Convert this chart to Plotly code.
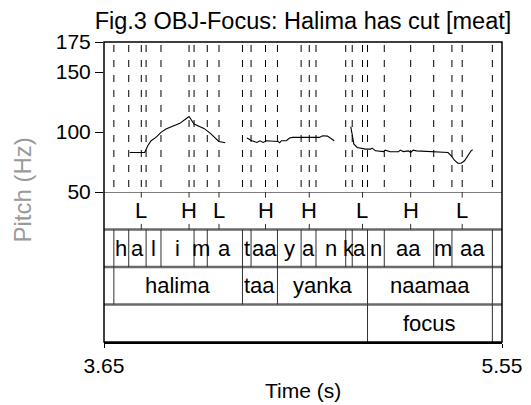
import plotly.graph_objects as go

FONT = "Liberation Sans, Arial, sans-serif"

# ---------------- data ----------------
x_start, x_end = 3.65, 5.55
y_ticks = [50, 100, 150, 175]

tone_times = [3.828, 4.056, 4.199, 4.421, 4.630, 4.884, 5.114, 5.360]
tone_labels = ["L", "H", "L", "H", "H", "L", "H", "L"]

phone_bounds = [3.697, 3.768, 3.851, 3.922, 4.080, 4.143, 4.311, 4.352, 4.478,
                4.591, 4.662, 4.804, 4.835, 4.908, 4.988, 5.224, 5.311, 5.504]
phone_labels = ["h", "a", "l", "i", "m", "a", "t", "aa", "y", "a", "n", "k",
                "a", "n", "aa", "m", "aa"]

word_bounds = [3.697, 4.311, 4.478, 4.908, 5.504]
word_labels = ["halima", "taa", "yanka", "naamaa"]

focus_bounds = [4.908, 5.504]
focus_labels = ["focus"]

pitch_t1 = [3.773, 3.844, 3.859, 3.875, 3.898, 3.922, 3.946, 3.977, 4.012, 4.040,
            4.056, 4.080, 4.103, 4.127, 4.158, 4.182, 4.198, 4.229]
pitch_hz1 = [82.9, 82.9, 88.5, 92.7, 95.5, 99.7, 102.5, 104.4, 107.2, 110.8,
             112.9, 106.7, 105.2, 103.0, 98.8, 95.0, 92.1, 91.0]

pitch_t2 = [4.332, 4.356, 4.380, 4.394, 4.410, 4.426, 4.481, 4.489, 4.497, 4.520,
            4.536, 4.552, 4.678, 4.694, 4.717, 4.733, 4.749]
pitch_hz2 = [95.0, 92.7, 91.3, 92.7, 91.3, 92.7, 92.1, 91.0, 92.7, 92.7,
             95.0, 95.5, 95.5, 96.9, 96.6, 95.0, 92.7]

pitch_t3 = [4.828, 4.836, 4.843, 4.859, 4.875, 4.898, 4.922, 4.930, 4.946, 4.985,
            4.993, 5.016, 5.056, 5.064, 5.079, 5.103, 5.114, 5.126, 5.142, 5.221,
            5.292, 5.308, 5.323, 5.339, 5.355, 5.371, 5.386, 5.402, 5.410]
pitch_hz3 = [104.4, 96.9, 89.9, 87.1, 86.6, 85.7, 85.7, 86.6, 84.3, 83.7,
             84.9, 83.5, 83.5, 84.9, 83.7, 84.3, 82.9, 84.9, 84.3, 83.7,
             82.9, 80.1, 76.5, 74.0, 74.0, 76.0, 80.1, 84.3, 85.2]

title_text = "Fig.3 OBJ-Focus: Halima has cut [meat]"
x_title = "Time (s)"
y_title = "Pitch (Hz)"

# ---------------- figure ----------------
fig = go.Figure()

for ts, hz in [(pitch_t1, pitch_hz1), (pitch_t2, pitch_hz2), (pitch_t3, pitch_hz3)]:
    fig.add_trace(go.Scatter(x=ts, y=hz, mode="lines", xaxis="x", yaxis="y",
                             line=dict(color="black", width=1.1),
                             showlegend=False, hoverinfo="skip"))

shapes = []
dash_times = sorted(set(tone_times + phone_bounds + word_bounds + focus_bounds))
for t in dash_times:
    shapes.append(dict(type="line", xref="x", yref="y", x0=t, x1=t, y0=175, y1=50,
                       line=dict(color="black", width=1, dash="0px,3px,7px,5px")))

# bottom of pitch panel
shapes.append(dict(type="line", xref="x", yref="y2", x0=x_start, x1=x_end, y0=4, y1=4,
                   line=dict(color="black", width=1)))
# tier separators
for yy in [3, 2, 1]:
    shapes.append(dict(type="line", xref="x", yref="y2", x0=x_start, x1=x_end, y0=yy, y1=yy,
                       line=dict(color="#6a6a6a", width=2.5)))

def tier_bounds(bounds, y0, y1):
    for b in bounds:
        shapes.append(dict(type="line", xref="x", yref="y2", x0=b, x1=b, y0=y0, y1=y1,
                           line=dict(color="#303030", width=1)))

tier_bounds(phone_bounds, 2, 3)
tier_bounds(word_bounds, 1, 2)
tier_bounds(focus_bounds, 0, 1)

for t in tone_times:
    shapes.append(dict(type="line", xref="x", yref="y2", x0=t, x1=t, y0=4, y1=3.85,
                       line=dict(color="#303030", width=1)))
    shapes.append(dict(type="line", xref="x", yref="y2", x0=t, x1=t, y0=3, y1=3.15,
                       line=dict(color="#303030", width=1)))

# frame
shapes.append(dict(type="rect", xref="paper", yref="paper", x0=0, x1=1, y0=0, y1=1,
                   line=dict(color="black", width=1.5)))

annotations = []
tfont = dict(family=FONT, size=22, color="black")
for t, lab in zip(tone_times, tone_labels):
    annotations.append(dict(x=t, y=3.5, xref="x", yref="y2", text=lab, showarrow=False,
                            font=tfont))

def tier_labels(bounds, labels, yc):
    for i, lab in enumerate(labels):
        annotations.append(dict(x=(bounds[i] + bounds[i + 1]) / 2, y=yc, xref="x", yref="y2",
                                text=lab, showarrow=False, font=tfont))

tier_labels(phone_bounds, phone_labels, 2.5)
tier_labels(word_bounds, word_labels, 1.5)
tier_labels(focus_bounds, focus_labels, 0.5)

# axis titles
annotations.append(dict(x=-0.206, y=0.505, xref="paper", yref="paper", text=y_title,
                        textangle=-90, showarrow=False, xanchor="center", yanchor="middle",
                        font=dict(family=FONT, size=24, color="#9a9a9a")))
annotations.append(dict(x=0.5, y=-0.163, xref="paper", yref="paper", text=x_title,
                        showarrow=False, xanchor="center", yanchor="middle",
                        font=dict(family=FONT, size=21, color="black")))

fig.update_layout(
    width=531, height=405,
    margin=dict(l=104, r=29, t=42, b=63, pad=0, autoexpand=False),
    paper_bgcolor="white", plot_bgcolor="white",
    title=dict(text=title_text, x=0.5, xref="paper", xanchor="center",
               y=1 - 21 / 405, yref="container", yanchor="middle",
               font=dict(family=FONT, size=23.5, color="black")),
    xaxis=dict(range=[x_start, x_end], domain=[0, 1], anchor="y2", automargin=False,
               tickvals=[x_start, x_end], ticktext=["3.65", "5.55"],
               ticks="outside", ticklen=4, tickcolor="black", tickwidth=1,
               showline=True, linecolor="black", linewidth=1.5,
               showgrid=False, zeroline=False,
               tickfont=dict(family=FONT, size=21, color="black")),
    yaxis=dict(range=[50, 175], domain=[0.5, 1], anchor="x", automargin=False,
               tickvals=y_ticks, ticks="outside", ticklen=8, tickcolor="black",
               showline=False, showgrid=False, zeroline=False,
               tickfont=dict(family=FONT, size=21, color="black")),
    yaxis2=dict(range=[0, 4], domain=[0, 0.5], anchor="x", automargin=False,
                showticklabels=False, ticks="", showgrid=False, zeroline=False,
                showline=False),
    shapes=shapes,
    annotations=annotations,
)

# remove the default page margin so the 531x405 figure fills the window exactly
fig.write_html(
    "out.html",
    config={"displayModeBar": False},
    post_script="document.body.style.margin='0';"
                "document.documentElement.style.overflow='hidden';",
)
